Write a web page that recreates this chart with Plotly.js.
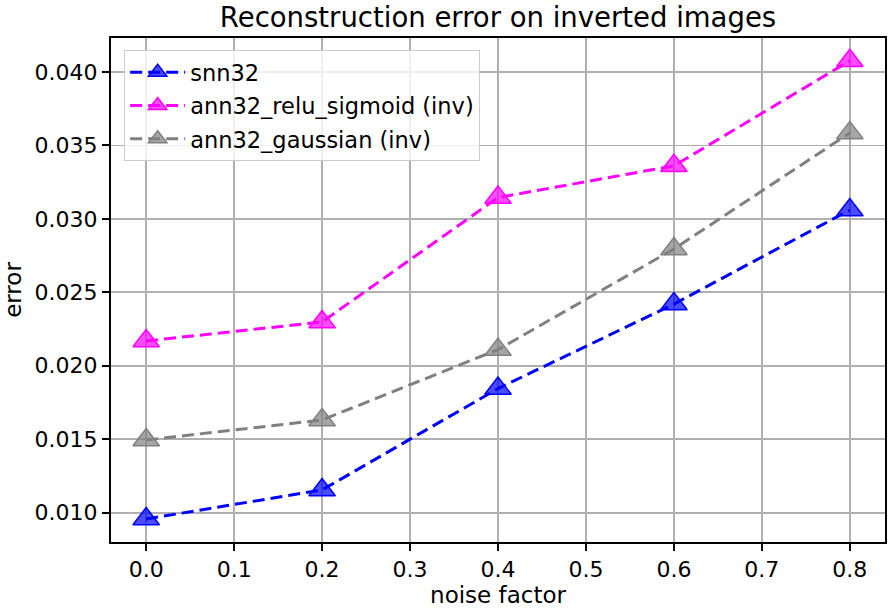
<!DOCTYPE html>
<html>
<head>
<meta charset="utf-8">
<script src="https://cdn.plot.ly/plotly-3.0.1.min.js"></script>
<style>html,body{margin:0;padding:0;background:#fff}#chart{width:893px;height:611px}</style>
</head>
<body>
<div id="chart"></div>
<script>
const noise = [0.0, 0.2, 0.4, 0.6, 0.8];
const snn32 = [0.00957, 0.01155, 0.01845, 0.02420, 0.03060];
const annReluSigmoid = [0.02169, 0.02298, 0.03145, 0.03361, 0.04076];
const annGaussian = [0.01495, 0.01631, 0.02110, 0.02795, 0.03585];
const seriesNames = ['snn32', 'ann32_relu_sigmoid (inv)', 'ann32_gaussian (inv)'];

const FONT = 'DejaVu Sans, sans-serif';
function trace(y, name, col, fill){
  return {
    type:'scatter', mode:'lines+markers', x: noise, y: y, name: name, legendgroup: name,
    line:{ color: col, width: 3, dash:'12px,6px' },
    marker:{ symbol:'triangle-up', size: 23, color: fill, line:{ color: col, width: 1.5 } }
  };
}
const traces = [
  trace(snn32, seriesNames[0], '#0000ff', 'rgba(0,0,255,0.7)'),
  trace(annReluSigmoid, seriesNames[1], '#ff00ff', 'rgba(255,0,255,0.7)'),
  trace(annGaussian, seriesNames[2], '#808080', 'rgba(128,128,128,0.7)')
];
const axisBase = {
  showline:true, linecolor:'#000', linewidth:2, mirror:true,
  showgrid:true, gridcolor:'#b0b0b0', gridwidth:1.8,
  ticks:'outside', ticklen:7, tickwidth:2, tickcolor:'#000',
  zeroline:false, tickfont:{ family: FONT, size: 22, color:'#000' }
};
const layout = {
  width: 893, height: 611,
  margin:{ l:111, r:8, t:38, b:69 },
  paper_bgcolor:'#fff', plot_bgcolor:'#fff',
  font:{ family: FONT, color:'#000' },
  title:{ text:'Reconstruction error on inverted images', font:{ family: FONT, size: 27.5, color:'#000' },
    xref:'paper', x:0.5, xanchor:'center', yref:'container', y:1 - 17/611, yanchor:'middle' },
  xaxis:{ ...axisBase, range:[-0.04, 0.84], dtick:0.1, tick0:0, tickformat:'.1f',
    title:{ text:'noise factor', font:{ family: FONT, size: 23 }, standoff: 4 } },
  yaxis:{ ...axisBase, range:[0.008005, 0.04231], dtick:0.005, tick0:0, tickformat:'.3f',
    title:{ text:'error', font:{ family: FONT, size: 23 }, standoff: 8 } },
  legend:{ x:0.017, y:0.976, xanchor:'left', yanchor:'top',
    bgcolor:'rgba(255,255,255,0.8)', bordercolor:'#cccccc', borderwidth:1,
    font:{ family: FONT, size: 22.5, color:'#000' },
    traceorder:'grouped', tracegroupgap: 1, itemwidth: 55 },
  showlegend:true
};
Plotly.newPlot('chart', traces, layout, { displayModeBar:false, staticPlot:true });
</script>
</body>
</html>
